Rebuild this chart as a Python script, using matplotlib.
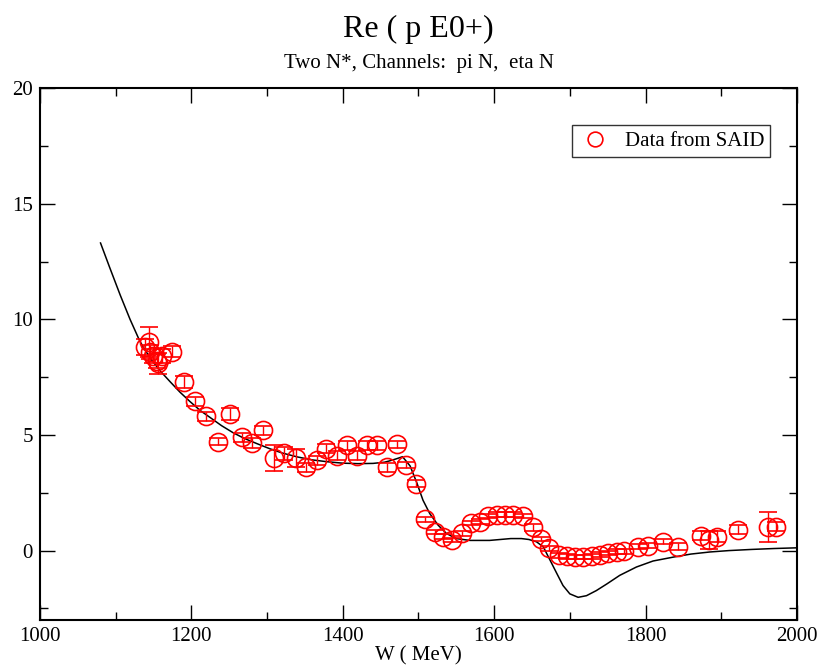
import matplotlib
matplotlib.use("Agg")
import matplotlib.pyplot as plt
from matplotlib.ticker import MultipleLocator
from matplotlib.lines import Line2D

plt.rcParams['font.family'] = ['Liberation Serif', 'DejaVu Serif']

# SAID data points: energy W (MeV), Re(E0+), error
w_data = [1139, 1144, 1145, 1149, 1154, 1156, 1161, 1174, 1190, 1205,
          1220, 1235, 1251, 1267, 1280, 1294, 1309, 1322, 1338, 1351,
          1366, 1378, 1392, 1405, 1419, 1432, 1445, 1458, 1472, 1483,
          1497, 1509, 1522, 1533, 1545, 1557, 1569, 1581, 1592, 1604,
          1614, 1625, 1638, 1651, 1662, 1672, 1686, 1696, 1707, 1718,
          1729, 1740, 1751, 1762, 1772, 1790, 1803, 1823, 1843, 1873,
          1884, 1894, 1922, 1962, 1972]
e_data = [8.8, 9.0, 8.6, 8.4, 8.2, 8.1, 8.4, 8.6, 7.3, 6.45,
          5.8, 4.7, 5.9, 4.9, 4.65, 5.2, 4.0, 4.2, 4.0, 3.6,
          3.9, 4.4, 4.1, 4.55, 4.1, 4.55, 4.55, 3.6, 4.6, 3.7,
          2.9, 1.35, 0.8, 0.6, 0.45, 0.75, 1.2, 1.25, 1.5, 1.55,
          1.55, 1.55, 1.5, 1.0, 0.5, 0.1, -0.2, -0.25, -0.27, -0.27,
          -0.25, -0.18, -0.1, -0.05, -0.03, 0.17, 0.22, 0.38, 0.17, 0.65,
          0.45, 0.6, 0.9, 1.0, 1.03]
e_err = [0.35, 0.65, 0.3, 0.3, 0.3, 0.45, 0.3, 0.25, 0.25, 0.2,
         0.2, 0.15, 0.25, 0.2, 0.2, 0.2, 0.55, 0.3, 0.4, 0.2,
         0.2, 0.2, 0.2, 0.2, 0.2, 0.2, 0.2, 0.2, 0.15, 0.15,
         0.15, 0.1, 0.1, 0.1, 0.1, 0.1, 0.1, 0.1, 0.1, 0.1,
         0.1, 0.1, 0.1, 0.15, 0.1, 0.1, 0.1, 0.1, 0.1, 0.1,
         0.1, 0.1, 0.1, 0.1, 0.1, 0.1, 0.1, 0.1, 0.15, 0.2,
         0.38, 0.25, 0.2, 0.65, 0.2]

# Model curve (two N*, pi N and eta N channels)
w_fit = [1080, 1092, 1106, 1119, 1132, 1145, 1158, 1172, 1185, 1198,
         1212, 1225, 1240, 1255, 1270, 1287, 1304, 1320, 1340, 1360,
         1380, 1400, 1420, 1440, 1455, 1462, 1471, 1479, 1489, 1498,
         1506, 1515, 1526, 1537, 1550, 1568, 1594, 1608, 1622, 1636,
         1646, 1656, 1665, 1674, 1683, 1691, 1700, 1711, 1722, 1735,
         1749, 1766, 1788, 1810, 1837, 1860, 1885, 1910, 1940, 1970,
         2000]
e_fit = [13.3, 12.25, 11.05, 10.0, 9.05, 8.35, 7.8, 7.3, 6.85, 6.45,
         6.05, 5.75, 5.4, 5.1, 4.85, 4.62, 4.4, 4.22, 4.05, 3.92,
         3.84, 3.78, 3.76, 3.77, 3.82, 3.88, 3.97, 4.06, 3.66, 2.92,
         2.18, 1.6, 1.1, 0.74, 0.52, 0.44, 0.44, 0.48, 0.52, 0.52,
         0.48, 0.38, 0.16, -0.42, -1.0, -1.51, -1.87, -2.02, -1.95, -1.73,
         -1.44, -1.07, -0.71, -0.45, -0.28, -0.15, -0.06, 0.0, 0.05, 0.09,
         0.12]

fig = plt.figure(figsize=(8.19, 6.67), dpi=100)
ax = fig.add_axes([0.0488, 0.0705, 0.9242, 0.7975])

ax.plot(w_fit, e_fit, color='black', lw=1.1)
ax.errorbar(w_data, e_data, yerr=e_err, fmt='o', mfc='none', mec='red',
            ms=13, mew=1.2, ecolor='red', elinewidth=1.0, capsize=6.5,
            capthick=1.0)

ax.set_xlim(1000, 2000)
ax.set_ylim(-3, 20)
ax.xaxis.set_major_locator(MultipleLocator(200))
ax.xaxis.set_minor_locator(MultipleLocator(100))
ax.yaxis.set_major_locator(MultipleLocator(5))
ax.yaxis.set_minor_locator(MultipleLocator(2.5))
ax.tick_params(which='both', direction='in', top=True, right=True,
               labelsize=15, width=1.0, pad=5)
ax.tick_params(which='major', length=11)
ax.tick_params(which='minor', length=5.5)
for s in ax.spines.values():
    s.set_linewidth(1.5)

ax.set_xlabel('W ( MeV)', fontsize=15, labelpad=0)

fig.text(0.511, 0.9445, 'Re ( p E0+)', ha='center', va='baseline', fontsize=23)
fig.text(0.511, 0.898, 'Two N*, Channels:  pi N,  eta N', ha='center',
         va='baseline', fontsize=15)

# legend entry shows only the circle
handle = Line2D([], [], marker='o', ls='none', mfc='none', mec='red',
                ms=10.6, mew=1.2)
leg = ax.legend([handle], ['Data from SAID'], loc='upper right',
                bbox_to_anchor=(0.965, 0.93), fontsize=15, frameon=True,
                fancybox=False, edgecolor='black', borderpad=0.3,
                handletextpad=0.64, handlelength=1.6, borderaxespad=0)
leg.get_frame().set_linewidth(1.0)

fig.savefig('out.png', dpi=100)
